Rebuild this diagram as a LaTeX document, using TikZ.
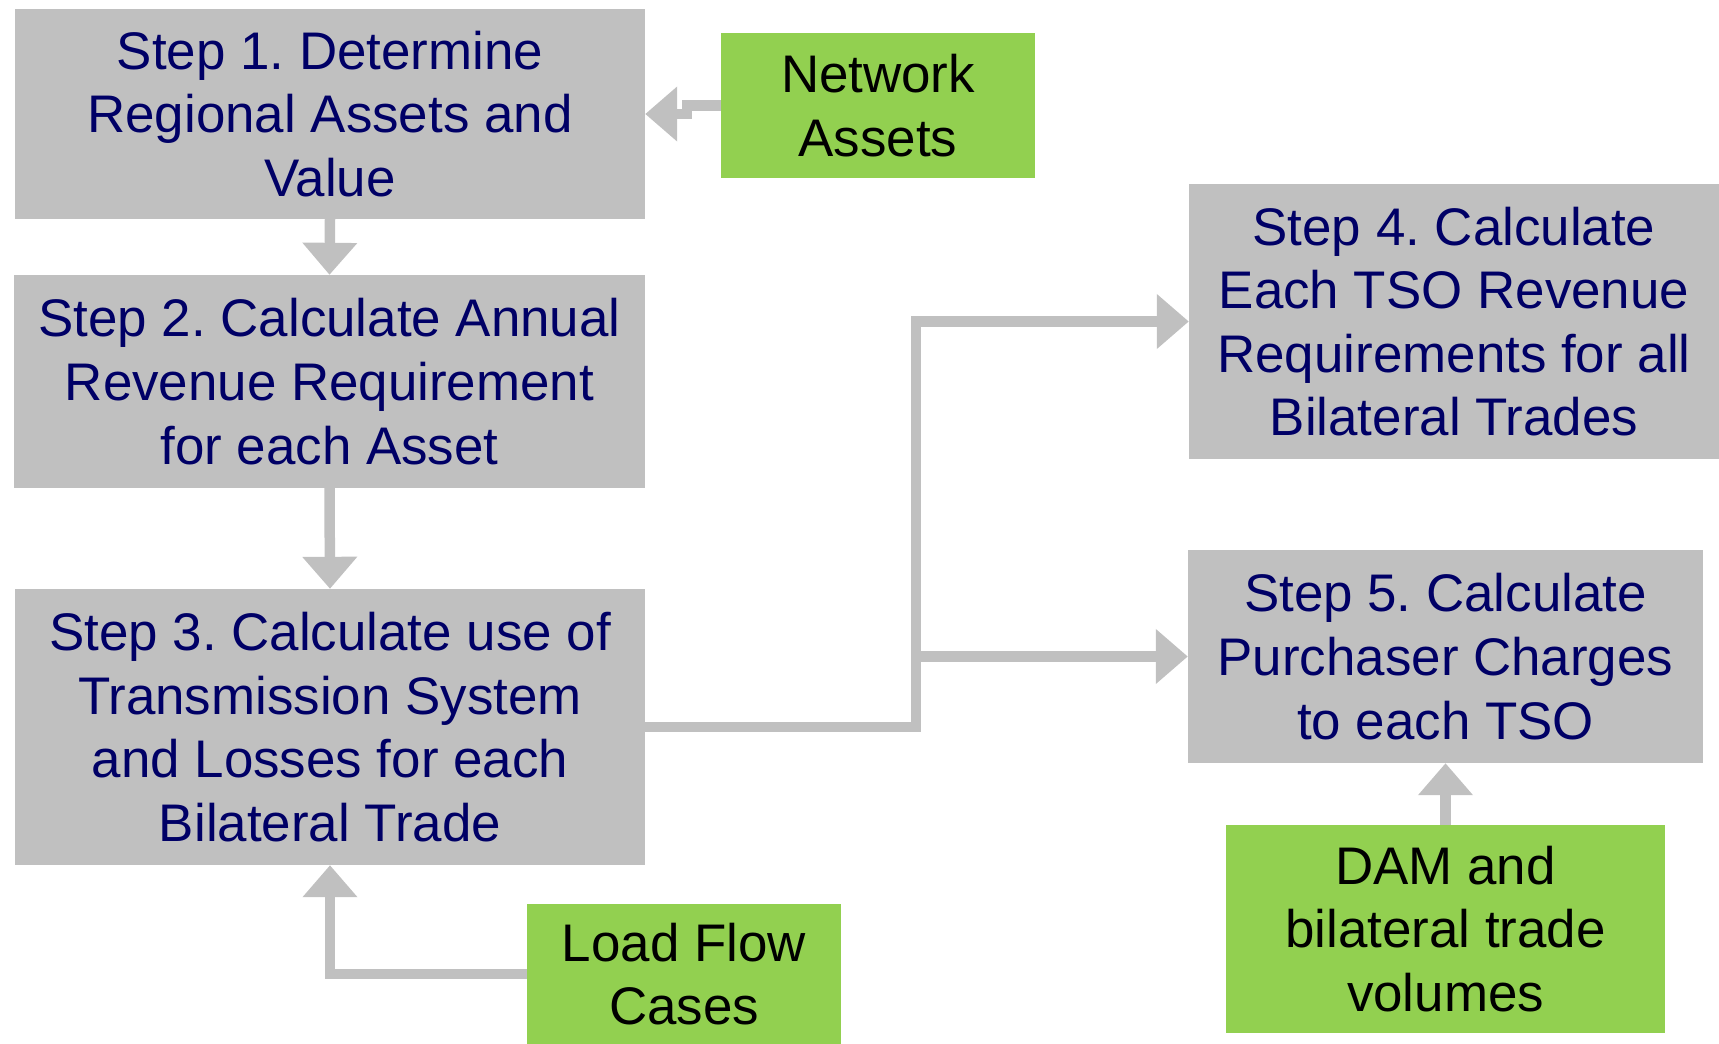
\documentclass[tikz,border=0pt]{standalone}
\usepackage{fontspec}
\setmainfont{Liberation Sans}
\usetikzlibrary{arrows.meta}
\definecolor{boxgray}{RGB}{192,192,192}
\definecolor{boxgreen}{RGB}{146,208,80}
\definecolor{navytext}{RGB}{0,0,102}
\frenchspacing
\begin{document}
\begin{tikzpicture}[x=1pt,y=-1pt,
  every node/.style={font=\fontsize{52.9pt}{63.6pt}\selectfont, align=center, inner sep=0pt},
  stepbox/.style={fill=boxgray, text=navytext},
  inputbox/.style={fill=boxgreen, text=black},
  conn/.style={draw=boxgray, line width=10.5pt,
    -{Triangle[length=32pt,width=53pt]}}]
\useasboundingbox (0,0) rectangle (1719,1044);

% process steps
\node[stepbox, minimum width=630pt, minimum height=210pt] (s1) at (330,114)
  {Step 1. Determine\\Regional Assets and\\Value};
\node[stepbox, minimum width=631pt, minimum height=213pt] (s2) at (329.5,381.5)
  {Step 2. Calculate Annual\\Revenue Requirement\\for each Asset};
\node[stepbox, minimum width=630pt, minimum height=276pt] (s3) at (330,727)
  {Step 3. Calculate use of\\Transmission System\\and Losses for each\\Bilateral Trade};
\node[stepbox, minimum width=530pt, minimum height=275pt] (s4) at (1454,321.5)
  {Step 4. Calculate\\Each TSO Revenue\\Requirements for all\\Bilateral Trades};
\node[stepbox, minimum width=515pt, minimum height=213pt] (s5) at (1445.5,656.5)
  {Step 5. Calculate\\Purchaser Charges\\to each TSO};

% inputs
\node[inputbox, minimum width=314pt, minimum height=145pt] (net) at (878,105.5)
  {Network\\Assets};
\node[inputbox, minimum width=314pt, minimum height=140pt] (lf) at (684,974)
  {Load Flow\\Cases};
\node[inputbox, minimum width=439pt, minimum height=208pt] (dam) at (1445.5,929)
  {DAM and\\bilateral trade\\volumes};

% connectors
\coordinate (j) at (916,727);
\draw[conn] (net.west) -- ++(-34,0) |- (s1.east);
\draw[conn] (s1.south) -- (s2.north);
\draw[conn] (s2.south) -- (s3.north);
\draw[conn] (s3.east) -- (j) |- (s4.west);
\draw[conn] (j |- s5.west) -- (s5.west);
\draw[conn] (lf.west) -| (s3.south);
\draw[conn] (dam.north) -- (s5.south);
\end{tikzpicture}
\end{document}
